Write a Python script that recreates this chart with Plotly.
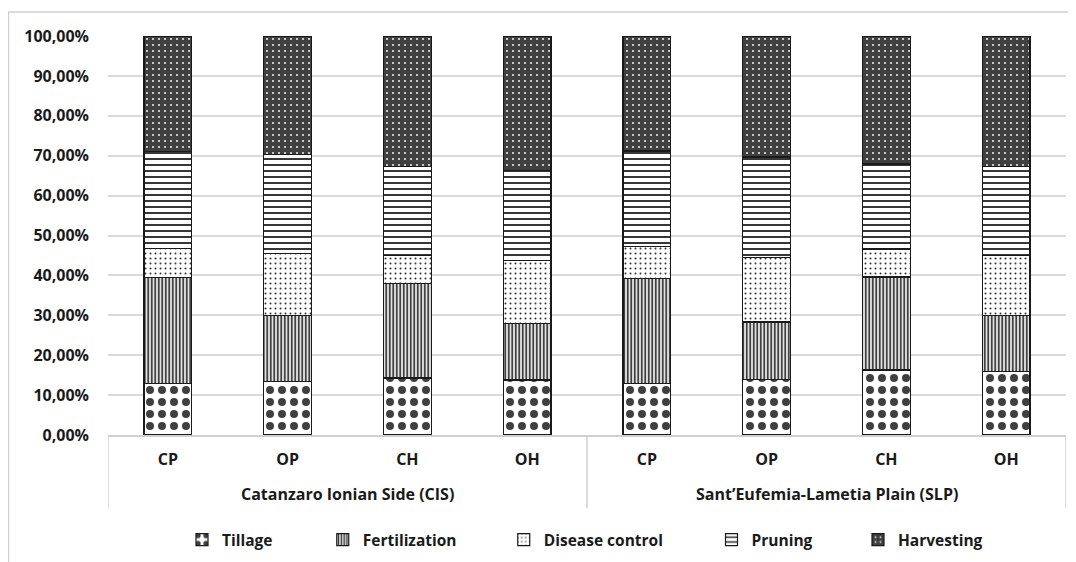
import plotly.graph_objects as go

regions = ["Catanzaro Ionian Side (CIS)", "Sant\u2019Eufemia-Lametia Plain (SLP)"]
systems = ["CP", "OP", "CH", "OH", "CP", "OP", "CH", "OH"]
region_of_bar = [0, 0, 0, 0, 1, 1, 1, 1]

tillage = [13.0, 13.5, 14.3, 13.8, 13.0, 14.0, 16.3, 16.0]
fertilization = [26.5, 16.5, 23.7, 14.2, 26.2, 14.3, 23.3, 14.0]
disease_control = [7.2, 15.5, 7.0, 15.7, 8.1, 16.1, 7.0, 15.0]
pruning = [24.3, 24.8, 22.2, 22.6, 23.9, 25.3, 21.3, 22.2]
harvesting = [29.0, 29.7, 32.8, 33.7, 28.8, 30.3, 32.1, 32.8]

series = [
    ("Tillage", tillage, dict(shape=".", fgcolor="#404040", bgcolor="white", size=12, solidity=0.35)),
    ("Fertilization", fertilization, dict(shape="|", fgcolor="#303030", bgcolor="#e0e0e0", size=3.5, solidity=0.45)),
    ("Disease control", disease_control, dict(shape=".", fgcolor="#303030", bgcolor="white", size=5, solidity=0.12)),
    ("Pruning", pruning, dict(shape="-", fgcolor="#202020", bgcolor="white", size=6, solidity=0.3)),
    ("Harvesting", harvesting, dict(shape=".", fgcolor="#e8e8e8", bgcolor="#404040", size=6, solidity=0.1)),
]

# geometry: the page places the figure 8px from the window edge
OFF = 8
W, H = 1076, 562
plot_left, plot_right, plot_top, plot_bottom = 108 - OFF, 1066 - OFF, 36 - OFF, 435 - OFF
L, R, T, B = plot_left, W - plot_right, plot_top, H - plot_bottom
PW, PH = plot_right - plot_left, plot_bottom - plot_top


def py(page_y):
    """page y pixel -> paper y"""
    return (plot_bottom - (page_y - OFF)) / PH


def px(page_x):
    return ((page_x - OFF) - plot_left) / PW


legend_left_page = [182, 322.75, 503.75, 711.5, 858]
legend_y_page = 540

positions = list(range(len(systems)))

fig = go.Figure()
layout_legends = {}
for i, (name, vals, pat) in enumerate(series):
    lg = "legend" if i == 0 else f"legend{i+1}"
    fig.add_trace(go.Bar(
        name=name,
        x=positions,
        y=[v / 100 for v in vals],
        width=0.4,
        legend=lg,
        marker=dict(color=pat["bgcolor"], line=dict(color="#1a1a1a", width=1.2),
                    pattern=dict(shape=pat["shape"], fgcolor=pat["fgcolor"], bgcolor=pat["bgcolor"],
                                 size=pat["size"], solidity=pat["solidity"], fillmode="replace")),
    ))
    layout_legends[lg] = dict(
        xref="container", yref="container",
        x=(legend_left_page[i] - OFF) / W, xanchor="left",
        y=1 - (legend_y_page - OFF) / H, yanchor="middle",
        font=dict(size=15.5, weight="bold", color="#1a1a1a"),
        itemwidth=30, bgcolor="rgba(0,0,0,0)", borderwidth=0,
    )

font_family = "Open Sans, Lato, sans-serif"

shapes = [dict(type="rect", xref="paper", yref="paper", x0=px(8.5), x1=px(1100), y0=py(600), y1=py(12),
               line=dict(color="#d0d0d0", width=1.5), fillcolor="rgba(0,0,0,0)", layer="below")]
# divider lines for the grouped category axis
for xd in [-0.5, 3.5, 7.5]:
    shapes.append(dict(type="line", xref="x", yref="paper", x0=xd, x1=xd, y0=0, y1=py(508),
                       line=dict(color="#d0d0d0", width=1.5)))

annotations = []
for g, name in enumerate(regions):
    idx = [p for p, r in zip(positions, region_of_bar) if r == g]
    annotations.append(dict(text=name, xref="x", yref="paper", x=sum(idx) / len(idx),
                            y=py(494), yanchor="middle", showarrow=False,
                            font=dict(size=16, weight="bold", color="#1a1a1a")))

fig.update_layout(
    barmode="stack",
    width=W, height=H,
    margin=dict(l=L, r=R, t=T, b=B, autoexpand=False),
    paper_bgcolor="white", plot_bgcolor="white",
    separators=",.",
    font=dict(family=font_family, size=14, color="#1a1a1a"),
    showlegend=True,
    yaxis=dict(range=[0, 1], tickformat=".2%", dtick=0.1, showgrid=True, gridcolor="#d9d9d9",
               gridwidth=1.5, zeroline=False, ticks="", tickfont=dict(size=16, weight="bold"),
               ticklabelstandoff=18, automargin=False),
    xaxis=dict(range=[-0.5, 7.5], tickvals=positions, ticktext=systems, showline=True,
               linecolor="#d0d0d0", linewidth=1.5, showgrid=False, zeroline=False,
               tickfont=dict(size=16, weight="bold"), ticks="", ticklabelstandoff=9, automargin=False),
    shapes=shapes,
    annotations=annotations,
    **layout_legends,
)

fig.write_html("out.html")
